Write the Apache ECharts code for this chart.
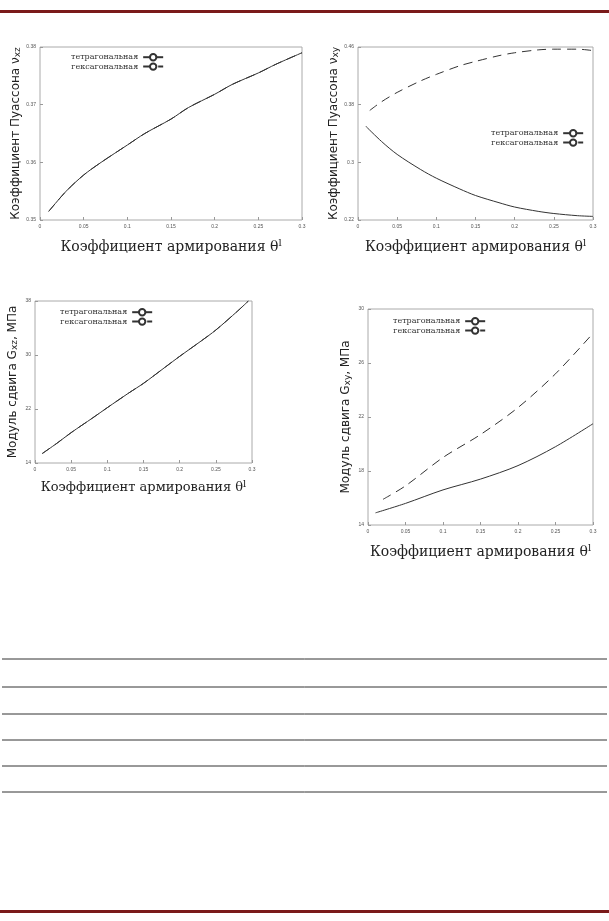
<!DOCTYPE html>
<html><head><meta charset="utf-8">
<script src="https://cdn.jsdelivr.net/npm/echarts@6/dist/echarts.min.js"></script>
<style>html,body{margin:0;padding:0;background:#fff}#c{width:609px;height:921px}</style>
</head><body><div id="c"></div>
<script>
var chart = echarts.init(document.getElementById('c'));
var nuXZ = [[0.01,0.3515],[0.03,0.355],[0.05,0.3578],[0.07,0.3600],[0.1,0.3630],[0.12,0.3650],[0.15,0.3675],[0.17,0.3695],[0.2,0.3718],[0.22,0.3735],[0.25,0.3755],[0.27,0.3770],[0.3,0.3790]];
var nuXYt = [[0.01,0.350],[0.03,0.329],[0.05,0.311],[0.08,0.290],[0.1,0.278],[0.13,0.263],[0.15,0.254],[0.18,0.244],[0.2,0.238],[0.23,0.232],[0.25,0.229],[0.28,0.226],[0.3,0.225]];
var nuXYh = [[0.015,0.372],[0.03,0.384],[0.05,0.397],[0.08,0.413],[0.1,0.422],[0.13,0.434],[0.15,0.440],[0.18,0.448],[0.2,0.452],[0.23,0.456],[0.25,0.457],[0.28,0.457],[0.3,0.455]];
var gXZ = [[0.01,15.4],[0.03,16.9],[0.05,18.5],[0.08,20.7],[0.1,22.2],[0.13,24.4],[0.15,25.8],[0.18,28.2],[0.2,29.8],[0.23,32.1],[0.25,33.7],[0.28,36.5],[0.295,38]];
var gXYt = [[0.01,14.9],[0.05,15.6],[0.1,16.6],[0.15,17.4],[0.2,18.4],[0.25,19.8],[0.3,21.5]];
var gXYh = [[0.02,15.9],[0.05,16.9],[0.1,19.0],[0.15,20.7],[0.2,22.7],[0.25,25.2],[0.3,28.2]];

var grids = [
  {left:40, top:47, width:262, height:173},
  {left:358, top:47, width:235, height:173},
  {left:35, top:301, width:217, height:162},
  {left:368, top:309, width:225, height:216}
];
var yr = [[0.35,0.38,0.01],[0.22,0.46,0.08],[14,38,8],[14,30,4]];
var ynames = ['Коэффициент Пуассона ν{s|xz}','Коэффициент Пуассона ν{s|xy}','Модуль сдвига G{s|xz}, МПа','Модуль сдвига G{s|xy}, МПа'];
var serif = 'DejaVu Serif', sans = 'DejaVu Sans';
var xAxis = [], yAxis = [];
for (var i = 0; i < 4; i++) {
  xAxis.push({type:'value', gridIndex:i, min:0, max:0.3, interval:0.05,
    name:'Коэффициент армирования θ{s|l}', nameLocation:'middle', nameGap:i==2?16:18,
    nameTextStyle:{fontFamily:serif, fontSize:i==2?13:14, color:'#222', rich:{s:{fontSize:10, verticalAlign:'top', padding:[0,0,8,0], fontFamily:serif}}},
    axisLine:{show:false}, splitLine:{show:false},
    axisTick:{show:true, inside:true, length:3, lineStyle:{color:'#999'}},
    axisLabel:{fontSize:5, color:'#555', margin:4}});
  yAxis.push({type:'value', gridIndex:i, min:yr[i][0], max:yr[i][1], interval:yr[i][2],
    name:ynames[i], nameLocation:'middle', nameGap:i==0||i==1?18:16, nameRotate:90,
    nameTextStyle:{fontFamily:sans, fontSize:12, color:'#222', rich:{s:{fontSize:9, verticalAlign:'bottom', fontFamily:sans}}},
    axisLine:{show:false}, splitLine:{show:false},
    axisTick:{show:true, inside:true, length:3, lineStyle:{color:'#999'}},
    axisLabel:{fontSize:5, color:'#555', margin:4}});
}
grids.forEach(function(g){ g.show = true; g.borderColor = '#aaa'; g.borderWidth = 1; });

function s(name, idx, data, dashed) {
  return {name:name, type:'line', xAxisIndex:idx, yAxisIndex:idx, data:data, showSymbol:false, smooth:0.3,
    lineStyle:{color:'#333', width:1, type:dashed?[9,6]:'solid'}, itemStyle:{color:'#333'}};
}
var T = 'тетрагональная', H = 'гексагональная';
var series = [
  s(T,0,nuXZ,false), s(H,0,nuXZ,true),
  s(T,1,nuXYt,false), s(H,1,nuXYh,true),
  s(T,2,gXZ,false), s(H,2,gXZ,true),
  s(T,3,gXYt,false), s(H,3,gXYh,true)
];
var legPos = [[66,48],[486,124],[55,303],[388,312]];
var legend = legPos.map(function(p){
  return {left:p[0], top:p[1], orient:'vertical', align:'right', itemGap:1, itemWidth:20, itemHeight:8,
    textStyle:{fontSize:8, color:'#333', fontFamily:serif}, data:[T,H], selectedMode:false};
});

var hl = [659,687,714,740,766,792];
var graphic = [
  {type:'rect', shape:{x:0,y:10,width:609,height:3}, style:{fill:'#7a1a1a'}},
  {type:'rect', shape:{x:0,y:910,width:609,height:3}, style:{fill:'#7a1a1a'}}
];
hl.forEach(function(y){
  graphic.push({type:'line', shape:{x1:2,y1:y,x2:607,y2:y}, style:{stroke:'#333', lineWidth:1}});
});

chart.setOption({
  animation:false, backgroundColor:'#fff',
  grid:grids, xAxis:xAxis, yAxis:yAxis, series:series, legend:legend, graphic:graphic
});
</script></body></html>
